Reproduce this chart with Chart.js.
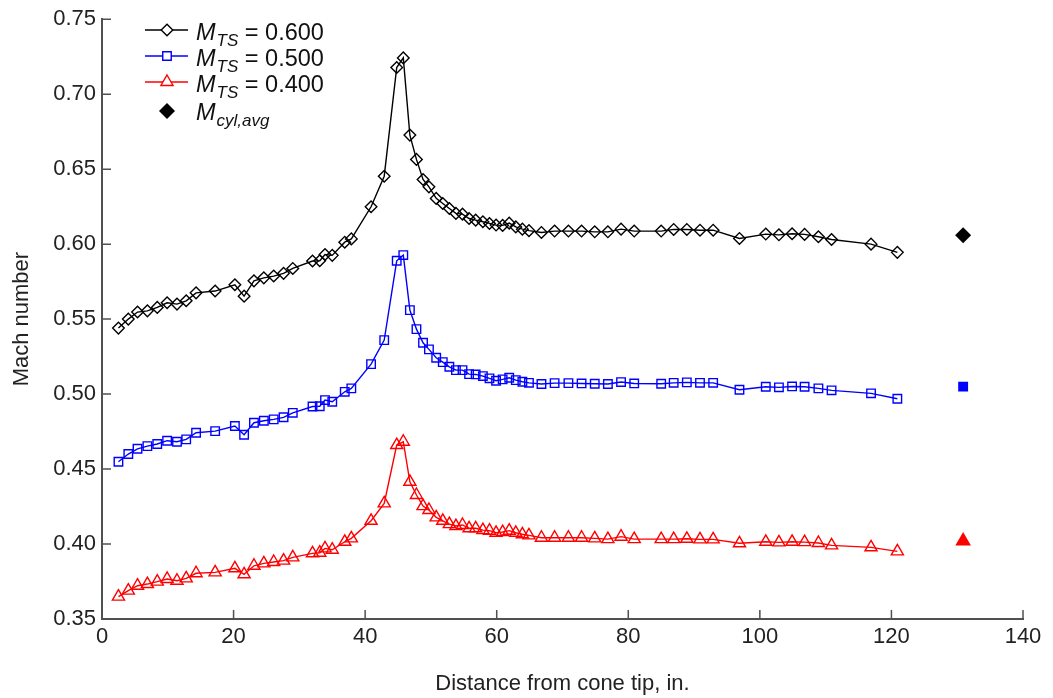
<!DOCTYPE html>
<html><head><meta charset="utf-8">
<script src="https://cdn.jsdelivr.net/npm/chart.js@4.4.1/dist/chart.umd.min.js"></script>
<style>html,body{margin:0;padding:0;background:#fff;} #wrap{width:1053px;height:698px;position:relative;}</style>
</head><body><div id="wrap"><canvas id="c" width="1053" height="698"></canvas></div>
<script>
// ---- data ----
const distance = [2.5, 4.0, 5.4, 6.9, 8.4, 9.9, 11.4, 12.8, 14.3, 17.2, 20.2, 21.6, 23.1, 24.6, 26.1, 27.6, 29.0, 32.0, 33.1, 33.9, 35.0, 36.9, 37.9, 40.9, 42.9, 44.8, 45.8, 46.8, 47.8, 48.8, 49.7, 50.8, 51.8, 52.8, 53.8, 54.8, 55.8, 56.8, 57.9, 58.9, 59.9, 60.9, 61.9, 62.9, 63.9, 64.9, 66.8, 68.8, 70.9, 72.9, 74.9, 76.9, 78.9, 80.9, 85.0, 86.9, 88.9, 90.9, 92.9, 96.9, 100.9, 102.9, 104.9, 106.8, 108.9, 110.9, 116.9, 120.9];
const machTS600 = [0.544, 0.550, 0.5547, 0.5555, 0.5578, 0.5609, 0.560, 0.5622, 0.5675, 0.5687, 0.5729, 0.5653, 0.5755, 0.5775, 0.5787, 0.5805, 0.5838, 0.5887, 0.5889, 0.5931, 0.5925, 0.6013, 0.6035, 0.6249, 0.6453, 0.7178, 0.7242, 0.6727, 0.6565, 0.6431, 0.6382, 0.6305, 0.6271, 0.6238, 0.6205, 0.620, 0.6171, 0.616, 0.6149, 0.6138, 0.6127, 0.6125, 0.614, 0.6115, 0.610, 0.609, 0.6078, 0.6087, 0.6087, 0.6087, 0.6082, 0.6082, 0.610, 0.6087, 0.6087, 0.6098, 0.6098, 0.6093, 0.6093, 0.6038, 0.6067, 0.6062, 0.6069, 0.6065, 0.6049, 0.6031, 0.600, 0.5945];
const machTS500 = [0.4549, 0.460, 0.4635, 0.4653, 0.4667, 0.4689, 0.4682, 0.4698, 0.4742, 0.4753, 0.4787, 0.4729, 0.4809, 0.4822, 0.4831, 0.4845, 0.4875, 0.4917, 0.4919, 0.4960, 0.4949, 0.5015, 0.5038, 0.520, 0.536, 0.5889, 0.5927, 0.556, 0.5433, 0.5342, 0.5298, 0.5242, 0.5213, 0.5182, 0.516, 0.516, 0.5133, 0.5131, 0.512, 0.5105, 0.5089, 0.5098, 0.5109, 0.5093, 0.5082, 0.5075, 0.5067, 0.5073, 0.5073, 0.5071, 0.5069, 0.5067, 0.508, 0.5071, 0.5069, 0.5075, 0.5078, 0.5075, 0.5075, 0.5029, 0.5049, 0.5045, 0.5051, 0.5049, 0.5038, 0.5025, 0.5005, 0.4969];
const machTS400 = [0.3649, 0.3689, 0.3722, 0.3733, 0.3749, 0.3767, 0.3755, 0.3771, 0.3805, 0.3811, 0.3838, 0.3798, 0.3855, 0.3871, 0.388, 0.3889, 0.3911, 0.3938, 0.3942, 0.3971, 0.3962, 0.4015, 0.4038, 0.4155, 0.4271, 0.466, 0.4682, 0.4415, 0.4327, 0.4253, 0.4227, 0.4178, 0.4155, 0.4133, 0.412, 0.4127, 0.4105, 0.4105, 0.4093, 0.4089, 0.4075, 0.408, 0.4089, 0.4075, 0.4065, 0.4058, 0.4042, 0.4042, 0.4042, 0.4042, 0.4038, 0.4033, 0.4049, 0.4033, 0.4033, 0.4033, 0.4035, 0.4031, 0.4031, 0.4005, 0.4015, 0.4011, 0.4015, 0.4013, 0.4007, 0.3991, 0.3978, 0.3951];
const cylAvgDistance = [130.9, 130.9, 130.9];
const cylAvgMach = [0.606, 0.505, 0.402];
const seriesMTS = ['0.600', '0.500', '0.400'];
const xTickValues = [0, 20, 40, 60, 80, 100, 120, 140];
const yTickValues = [0.35, 0.40, 0.45, 0.50, 0.55, 0.60, 0.65, 0.70, 0.75];

// ---- styles ----
const colors = ['#000000', '#0000FF', '#FF0000'];
const styles = ['rectRot', 'rect', 'triangle'];
const radii = [5.8, 6, 7];
const avgRadii = [8, 7, 9];
const FONT = '"Liberation Sans", Arial, sans-serif';

function pts(xs, ys) { return xs.map((x, i) => ({x: x, y: ys[i]})); }
const seriesData = [machTS600, machTS500, machTS400];

const datasets = seriesData.map((arr, i) => ({
  label: 'M_TS = ' + seriesMTS[i],
  data: pts(distance, arr),
  showLine: true,
  borderColor: colors[i],
  backgroundColor: 'rgba(0,0,0,0)',
  borderWidth: 1.4,
  pointStyle: styles[i],
  pointRadius: radii[i],
  pointBorderWidth: 1.4,
  pointBorderColor: colors[i],
  pointBackgroundColor: 'rgba(255,255,255,0)',
  tension: 0
}));
cylAvgMach.forEach((v, i) => {
  datasets.push({
    label: 'M_cyl,avg ' + seriesMTS[i],
    data: [{x: cylAvgDistance[i], y: v}],
    showLine: false,
    pointStyle: styles[i],
    pointRadius: avgRadii[i],
    pointBorderWidth: 0,
    borderColor: colors[i],
    pointBackgroundColor: colors[i],
    backgroundColor: colors[i]
  });
});

const PLOT = {left: 102, top: 19, right: 1023, bottom: 619};
const AXIS_COLOR = '#505050';

const inwardTicks = {
  id: 'inwardTicks',
  afterDatasetsDraw(chart) {
    const ctx = chart.ctx, xs = chart.scales.x, ys = chart.scales.y;
    const a = chart.chartArea;
    ctx.save();
    ctx.strokeStyle = AXIS_COLOR;
    ctx.lineWidth = 1.5;
    ctx.beginPath();
    xTickValues.forEach(v => { const p = xs.getPixelForValue(v); ctx.moveTo(p, a.bottom); ctx.lineTo(p, a.bottom - 9); });
    yTickValues.forEach(v => { const p = ys.getPixelForValue(v); ctx.moveTo(a.left, p); ctx.lineTo(a.left + 9, p); });
    ctx.stroke();
    ctx.restore();
  }
};

const mathLegend = {
  id: 'mathLegend',
  afterDraw(chart) {
    const ctx = chart.ctx;
    const x0 = 145, x1 = 188, xm = 167, tx = 196;
    const rows = [30, 56, 82];
    ctx.save();
    rows.forEach((y, i) => {
      ctx.strokeStyle = colors[i];
      ctx.lineWidth = 1.4;
      ctx.beginPath(); ctx.moveTo(x0, y); ctx.lineTo(x1, y); ctx.stroke();
      ctx.fillStyle = '#ffffff';
      Chart.helpers.drawPoint(ctx, {pointStyle: styles[i], radius: radii[i], rotation: 0, borderWidth: 1.4}, xm, y);
      ctx.fillStyle = '#111';
      ctx.textBaseline = 'alphabetic';
      let x = tx;
      ctx.font = 'italic 23.5px ' + FONT;
      ctx.fillText('M', x, y + 9.5); x += ctx.measureText('M').width + 1;
      ctx.font = 'italic 17px ' + FONT;
      ctx.fillText('TS', x, y + 16); x += ctx.measureText('TS').width;
      ctx.font = '23.5px ' + FONT;
      ctx.fillText(' = ' + seriesMTS[i], x, y + 9.5);
    });
    const y4 = 111;
    ctx.fillStyle = '#000';
    Chart.helpers.drawPoint(ctx, {pointStyle: 'rectRot', radius: 8, rotation: 0, borderWidth: 0}, xm, y4);
    ctx.fillStyle = '#111';
    let x = tx;
    ctx.font = 'italic 23.5px ' + FONT;
    ctx.fillText('M', x, y4 + 8.5); x += ctx.measureText('M').width + 1;
    ctx.font = 'italic 17px ' + FONT;
    ctx.fillText('cyl,avg', x, y4 + 15);
    ctx.restore();
  }
};

new Chart(document.getElementById('c'), {
  type: 'scatter',
  data: {datasets: datasets},
  plugins: [inwardTicks, mathLegend],
  options: {
    responsive: false,
    animation: false,
    devicePixelRatio: 1,
    layout: {padding: {top: PLOT.top, right: 1053 - PLOT.right, left: 0, bottom: 0}},
    plugins: {legend: {display: false}, tooltip: {enabled: false}},
    scales: {
      x: {
        type: 'linear', min: 0, max: 140,
        afterBuildTicks: s => { s.ticks = xTickValues.map(v => ({value: v})); },
        afterFit: s => { s.height = 698 - PLOT.bottom; },
        ticks: {color: '#222', font: {size: 22, family: FONT}, padding: 5, maxRotation: 0},
        grid: {display: true, drawOnChartArea: false, drawTicks: false},
        border: {display: true, color: AXIS_COLOR, width: 2},
        title: {display: true, text: 'Distance from cone tip, in.', color: '#222', font: {size: 22, family: FONT}, padding: {top: 0, bottom: 1}}
      },
      y: {
        type: 'linear', min: 0.35, max: 0.75,
        afterBuildTicks: s => { s.ticks = yTickValues.map(v => ({value: v})); },
        afterFit: s => { s.width = PLOT.left; },
        ticks: {color: '#222', font: {size: 22, family: FONT}, padding: 6, callback: v => Number(v).toFixed(2)},
        grid: {display: true, drawOnChartArea: false, drawTicks: false},
        border: {display: true, color: AXIS_COLOR, width: 2},
        title: {display: true, text: 'Mach number', color: '#222', font: {size: 22, family: FONT}, padding: {top: 9, bottom: 0}}
      }
    }
  }
});
</script></body></html>
